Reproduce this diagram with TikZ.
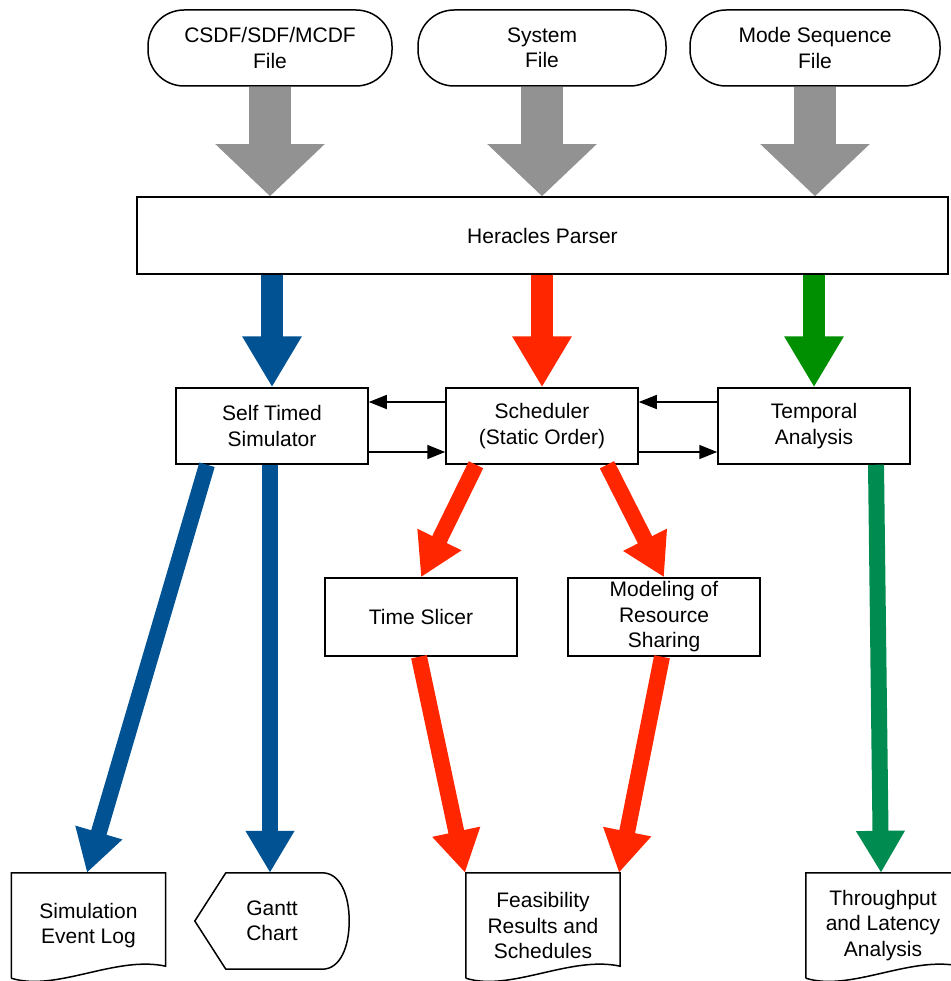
\documentclass[tikz,border=0pt]{standalone}
\usepackage{fontspec}
\setmainfont{Liberation Sans}
\usetikzlibrary{arrows.meta,calc}
\definecolor{flowgray}{RGB}{146,146,146}
\definecolor{flowblue}{RGB}{0,82,147}
\definecolor{flowred}{RGB}{255,38,0}
\definecolor{flowgreen}{RGB}{0,143,0}
\definecolor{flowteal}{RGB}{0,140,80}
\newcommand\docshape[1]{\draw[line width=1.5pt] (#1.south west) -- (#1.north west) -- (#1.north east) -- ($(#1.south east)+(0,-12)$) .. controls +(-50,-11) and +(45,14) .. (#1.south west);}

\begin{document}
\begin{tikzpicture}[x=1pt,y=-1pt,font=\fontsize{21}{25.5}\selectfont,
  box/.style={draw,line width=1.5pt,fill=white,minimum width=192pt,minimum height=76pt,align=center,inner sep=0pt},
  srcbox/.style={box,rounded corners=36pt},
  docbox/.style={align=center,inner sep=0pt,minimum width=154pt,minimum height=105pt},
  grayarrow/.style={draw=flowgray,line width=42pt,-{Triangle[length=52pt,width=106pt]}},
  toparrow/.style={line width=22pt,-{Triangle[length=51pt,width=56pt]}},
  longarrow/.style={line width=16pt,-{Triangle[length=42pt,width=46pt]}},
  link/.style={line width=1.5pt,-{Triangle[length=18pt,width=14pt]}}]
\useasboundingbox (0,0) rectangle (950,981);
% inputs and parser
\node[srcbox,minimum width=244pt] (csdf) at (270,48){CSDF/SDF/MCDF\\File};
\node[srcbox,minimum width=248pt] (sys) at (542,48){System\\File};
\node[srcbox,minimum width=250pt] (mode) at (815,48){Mode Sequence\\File};
\node[box,minimum width=811pt,minimum height=77pt] (parser) at (542.5,235.5){Heracles Parser};
\draw[grayarrow] (csdf.south) -- (csdf.south |- parser.north); \draw[grayarrow] (sys.south) -- (sys.south |- parser.north); \draw[grayarrow] (mode.south) -- (mode.south |- parser.north);
% tools
\node[box] (sim) at (272,426){Self Timed\\Simulator};
\node[box] (sched) at (542,426){Scheduler\\(Static Order)};
\node[box] (temp) at (814,426){Temporal\\Analysis};
\draw[toparrow,flowblue] (parser.south -| sim) -- (sim.north); \draw[toparrow,flowred] (parser.south -| sched) -- (sched.north); \draw[toparrow,flowgreen] (parser.south -| temp) -- (temp.north);
\draw[link] ([yshift=24pt]sched.west) -- ([yshift=24pt]sim.east); \draw[link] ([yshift=-26pt]sim.east) -- ([yshift=-26pt]sched.west);
\draw[link] ([yshift=24pt]temp.west) -- ([yshift=24pt]sched.east); \draw[link] ([yshift=-26pt]sched.east) -- ([yshift=-26pt]temp.west);
\node[box,minimum height=78pt] (slicer) at (421,617){Time Slicer};
\node[box,minimum height=78pt] (model) at (664,617){Modeling of\\Resource\\Sharing};
\draw[longarrow,flowred] ([xshift=-66pt]sched.south) -- (slicer.north); \draw[longarrow,flowred] ([xshift=65pt]sched.south) -- (model.north);
% outputs
\node[docbox] (log) at (88.5,925.5){Simulation\\Event Log}; \docshape{log}
\node[docbox,minimum height=96pt] (gantt) at (272,921){Gantt\\Chart};
\draw[line width=1.5pt] (gantt.west) -- ($(gantt.north west)+(31,0)$) -- ($(gantt.north east)+(-27,0)$) .. controls +(18,0) and +(0,-26) .. (gantt.east) .. controls +(0,26) and +(18,0) .. ($(gantt.south east)+(-27,0)$) -- ($(gantt.south west)+(31,0)$) -- cycle;
\node[docbox] (feas) at (543,925.5){Feasibility\\Results and\\Schedules}; \docshape{feas}
\node[docbox] (thru) at (883,925.5){Throughput\\and Latency\\Analysis}; \docshape{thru}
\draw[longarrow,flowblue] ([xshift=-65pt]sim.south) -- ([xshift=-1.5pt]log.north); \draw[longarrow,flowblue] ([xshift=-2pt]sim.south) -- ([xshift=-2pt]gantt.north);
\draw[longarrow,flowred] ([xshift=-2pt]slicer.south) -- ([xshift=-78pt]feas.north); \draw[longarrow,flowred] ([xshift=-2pt]model.south) -- ([xshift=76pt]feas.north);
\draw[longarrow,flowteal] ([xshift=62pt]temp.south) -- ([xshift=-2pt]thru.north);
\end{tikzpicture}
\end{document}
